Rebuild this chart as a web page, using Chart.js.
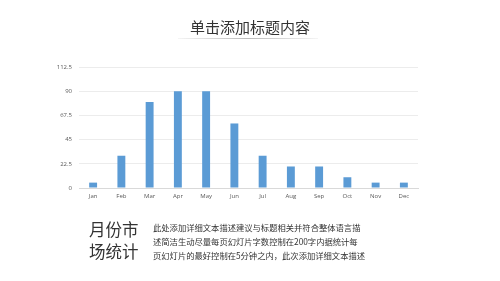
<!DOCTYPE html>
<html><head><meta charset="utf-8">
<script src="https://cdn.jsdelivr.net/npm/chart.js@4/dist/chart.umd.min.js"></script>
<style>
html,body{margin:0;padding:0;background:#fff;width:500px;height:281px;overflow:hidden;font-family:"Noto Sans CJK SC","Noto Sans",sans-serif;}
#wrap{position:absolute;left:0;top:0;width:500px;height:281px;}
#title{position:absolute;left:0;width:500px;top:17px;text-align:center;font-size:15px;color:#333;line-height:20px;}
#rule{position:absolute;left:178px;top:38px;width:140px;height:1px;background:linear-gradient(to right,rgba(200,200,200,0.2),#bbb,rgba(200,200,200,0.2));}
#big{position:absolute;left:89px;top:218px;font-size:16.5px;line-height:22px;color:#333;white-space:nowrap;}
#para{position:absolute;left:153px;top:220px;font-size:8.3px;line-height:14px;color:#333;white-space:nowrap;}
</style></head>
<body>
<div id="wrap"><canvas id="c" width="500" height="281"></canvas></div>
<div id="title">单击添加标题内容</div>
<div id="rule"></div>
<div id="big">月份市<br>场统计</div>
<div id="para">此处添加详细文本描述建议与标题相关并符合整体语言描<br>述简洁生动尽量每页幻灯片字数控制在200字内据统计每<br>页幻灯片的最好控制在5分钟之内，此次添加详细文本描述</div>
<script>
const categories = ["Jan","Feb","Mar","Apr","May","Jun","Jul","Aug","Sep","Oct","Nov","Dec"];
const values = [5,30,80,90,90,60,30,20,20,10,5,5];
const yTicks = [0,22.5,45,67.5,90,112.5];

new Chart(document.getElementById('c'), {
  type: 'bar',
  data: { labels: categories, datasets: [{ data: values, backgroundColor: '#5B9BD5', categoryPercentage: 0.56, barPercentage: 0.5 }] },
  options: {
    responsive: false, animation: false,
    layout: { padding: { left: 40, right: 82, top: 67, bottom: 77 } },
    plugins: { legend: { display: false }, tooltip: { enabled: false } },
    scales: {
      x: {
        grid: { display: false, drawTicks: false },
        border: { color: '#d9d9d9' },
        ticks: { color: '#595959', font: { size: 6, family: 'Open Sans' }, padding: 5, maxRotation: 0 },
        afterFit: s => { s.height = 16; }
      },
      y: {
        min: 0, max: 112.5,
        afterBuildTicks: s => { s.ticks = yTicks.map(v => ({ value: v })); },
        grid: { color: '#ececec', drawTicks: false },
        border: { display: false },
        ticks: { color: '#595959', font: { size: 6, family: 'Open Sans' }, padding: 7 },
        afterFit: s => { s.width = 39; }
      }
    }
  }
});
</script>
</body></html>
